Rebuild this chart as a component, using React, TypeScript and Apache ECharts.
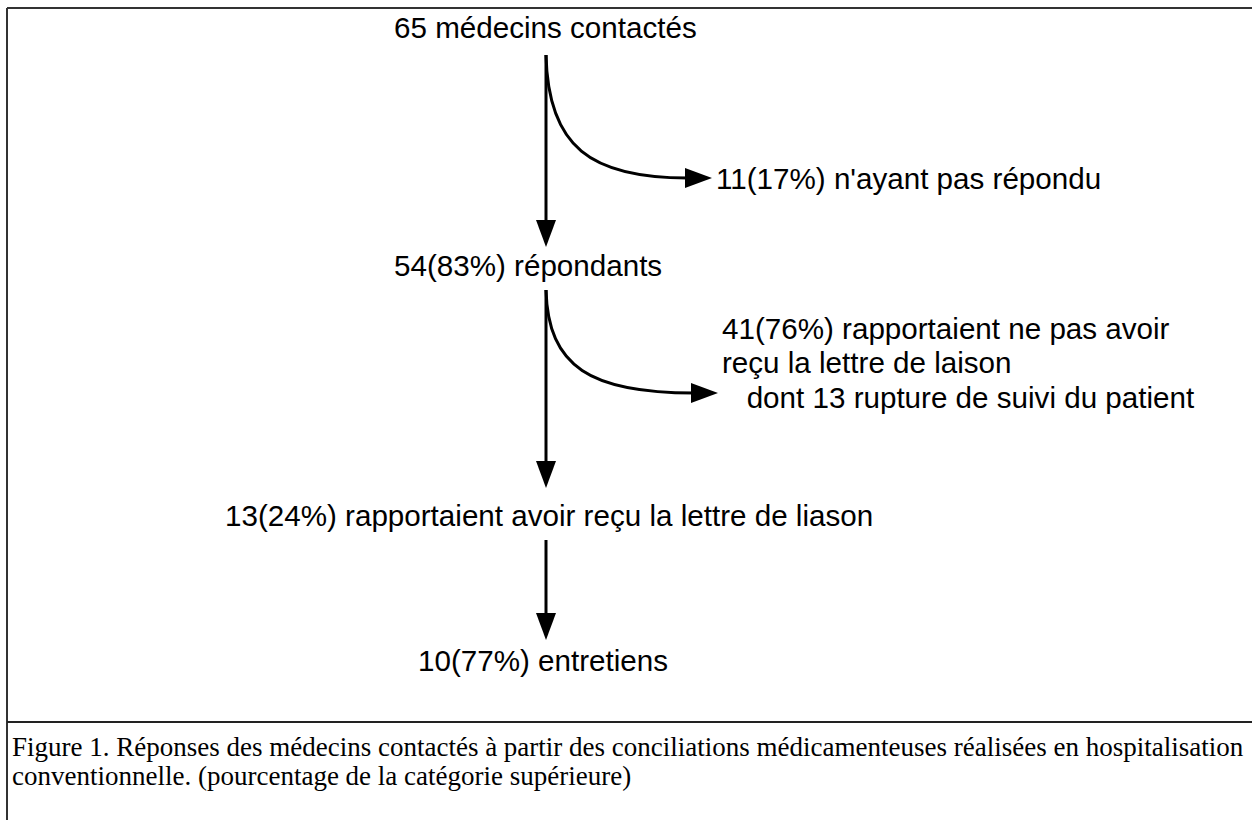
import React, { useEffect, useRef } from "react";
import * as echarts from "echarts";

// Flow data
const mainCounts = [65, 54, 13, 10];
const mainPercents: (number | null)[] = [null, 83, 24, 77];
const mainLabels = [
  "médecins contactés",
  "répondants",
  "rapportaient avoir reçu la lettre de liason",
  "entretiens",
];
const branchCounts = [11, 41];
const branchPercents = [17, 76];
const branchLabels = [
  ["n'ayant pas répondu"],
  ["rapportaient ne pas avoir", "reçu la lettre de laison", "   dont 13 rupture de suivi du patient"],
];
const captionLines = [
  "Figure 1. Réponses des médecins contactés à partir des conciliations médicamenteuses réalisées en hospitalisation",
  "conventionnelle. (pourcentage de la catégorie supérieure)",
];

function fmt(n: number, p: number | null) {
  return p === null ? `${n}` : `${n}(${p}%)`;
}

export default function App() {
  const ref = useRef<HTMLDivElement>(null);
  useEffect(() => {
    if (!ref.current) return;
    const chart = echarts.init(ref.current, null, { renderer: "svg" });
    const font = "Arial, 'Liberation Sans', sans-serif";
    const fs = 29.6;
    const cx = 546;
    const txt = (x: number, y: number, s: string) => ({
      type: "text",
      x,
      y,
      style: { text: s, fill: "#000", font: `${fs}px ${font}`, textVerticalAlign: "middle", textAlign: "left" },
    });
    const vArrow = (y1: number, tip: number) => [
      { type: "line", shape: { x1: cx, y1, x2: cx, y2: tip - 24 }, style: { stroke: "#000", lineWidth: 3 } },
      { type: "polygon", shape: { points: [[cx - 10, tip - 27], [cx + 10, tip - 27], [cx, tip]] }, style: { fill: "#000" } },
    ];
    const curve = (y0: number, yEnd: number, xEnd: number) => [
      {
        type: "bezierCurve",
        shape: { x1: cx, y1: y0, cpx1: cx + 2, cpy1: y0 + (yEnd - y0) * 0.75, cpx2: cx + 45, cpy2: yEnd, x2: xEnd - 24, y2: yEnd },
        style: { stroke: "#000", lineWidth: 3, fill: null },
      },
      { type: "polygon", shape: { points: [[xEnd - 27, yEnd - 10], [xEnd - 27, yEnd + 10], [xEnd, yEnd]] }, style: { fill: "#000" } },
    ];
    const mainY = [27, 265, 515, 660];
    const mainX = [394, 394, 225, 418];
    const elements: any[] = [
      { type: "line", shape: { x1: 7, y1: 8, x2: 1300, y2: 8 }, style: { stroke: "#333", lineWidth: 2 } },
      { type: "line", shape: { x1: 7, y1: 8, x2: 7, y2: 900 }, style: { stroke: "#333", lineWidth: 2 } },
      { type: "line", shape: { x1: 7, y1: 722, x2: 1300, y2: 722 }, style: { stroke: "#222", lineWidth: 2 } },
    ];
    mainCounts.forEach((c, i) => {
      elements.push(txt(mainX[i], mainY[i], `${fmt(c, mainPercents[i])} ${mainLabels[i]}`));
    });
    elements.push(...vArrow(55, 247));
    elements.push(...vArrow(290, 488));
    elements.push(...vArrow(540, 640));
    elements.push(...curve(55, 178, 712));
    elements.push(...curve(290, 393, 718));
    elements.push(txt(716, 178, `${fmt(branchCounts[0], branchPercents[0])} ${branchLabels[0][0]}`));
    const bY = [328, 362, 397];
    branchLabels[1].forEach((l, i) => {
      elements.push(txt(722, bY[i], i === 0 ? `${fmt(branchCounts[1], branchPercents[1])} ${l}` : l));
    });
    captionLines.forEach((l, i) => {
      elements.push({
        type: "text",
        x: 12,
        y: 747 + i * 29,
        style: { text: l, fill: "#000", font: `27px 'Times New Roman', 'Liberation Serif', serif`, textVerticalAlign: "middle" },
      });
    });
    chart.setOption({ animation: false, graphic: { elements } });
    return () => chart.dispose();
  }, []);
  return <div ref={ref} style={{ position: "fixed", left: 0, top: 0, width: 1252, height: 820, background: "#fff" }} />;
}
